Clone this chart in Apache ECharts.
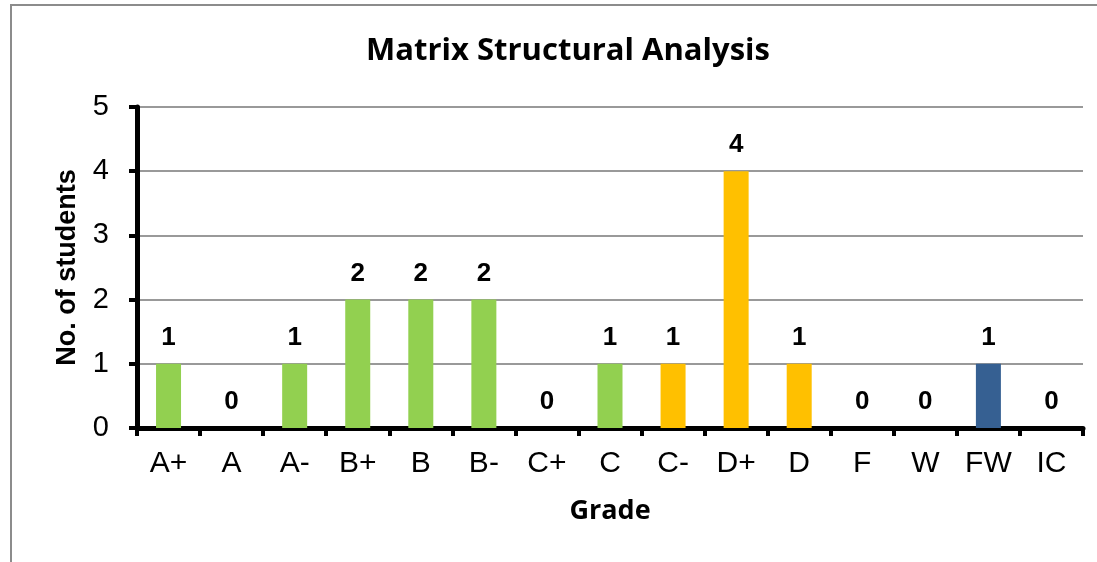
<!DOCTYPE html>
<html>
<head>
<meta charset="utf-8">
<script src="https://cdn.jsdelivr.net/npm/echarts@6/dist/echarts.min.js"></script>
<style>
  html, body { margin: 0; padding: 0; background: #fff; }
  #main { width: 1097px; height: 562px; }
</style>
</head>
<body>
<div id="main"></div>
<script>
// grades on the x axis
var grades = ['A+', 'A', 'A-', 'B+', 'B', 'B-', 'C+', 'C', 'C-', 'D+', 'D', 'F', 'W', 'FW', 'IC'];
// number of students per grade
var students = [1, 0, 1, 2, 2, 2, 0, 1, 1, 4, 1, 0, 0, 1, 0];
var yTicks = [0, 1, 2, 3, 4, 5];

// bar colour groups (green = pass, orange = low pass, blue = fail/withdraw)
var green = '#92D050', orange = '#FFC000', blue = '#366092';
var barColors = [green, green, green, green, green, green, green, green,
                 orange, orange, orange, orange, orange, blue, blue];

var chart = echarts.init(document.getElementById('main'));

var option = {
    backgroundColor: '#fff',
    animation: false,
    title: {
        text: 'Matrix Structural Analysis',
        left: 563,
        textAlign: 'center',
        top: 31,
        textStyle: { fontFamily: 'Open Sans', fontWeight: 'bold', fontSize: 31, color: '#000' }
    },
    graphic: [{
        type: 'rect',
        shape: { x: 11, y: 5, width: 1200, height: 700 },
        style: { fill: 'none', stroke: '#8c8c8c', lineWidth: 2 },
        silent: true
    }],
    grid: { left: 137, right: 14, top: 107, bottom: 134 },
    xAxis: {
        type: 'category',
        data: grades,
        name: 'Grade',
        nameLocation: 'middle',
        nameGap: 70,
        nameTextStyle: { fontFamily: 'Open Sans', fontWeight: 'bold', fontSize: 27, color: '#000' },
        axisLine: { lineStyle: { color: '#000', width: 5 } },
        axisTick: { show: true, length: 8, lineStyle: { color: '#000', width: 4 } },
        axisLabel: { fontFamily: 'Liberation Sans', fontSize: 30, color: '#000', margin: 21 }
    },
    yAxis: {
        type: 'value',
        min: yTicks[0],
        max: yTicks[yTicks.length - 1],
        interval: 1,
        name: 'No. of students',
        nameLocation: 'middle',
        nameGap: 56,
        nameTextStyle: { fontFamily: 'Liberation Sans', fontWeight: 'bold', fontSize: 27, color: '#000' },
        axisLine: { show: true, lineStyle: { color: '#000', width: 5 } },
        axisTick: { show: true, length: 8, lineStyle: { color: '#000', width: 4 } },
        axisLabel: { fontFamily: 'Liberation Sans', fontSize: 29, color: '#000', margin: 28 },
        splitLine: { lineStyle: { color: '#999', width: 2 } }
    },
    series: [{
        type: 'bar',
        barWidth: 25,
        data: students.map(function (v, i) {
            return { value: v, itemStyle: { color: barColors[i] } };
        }),
        label: {
            show: true,
            position: 'top',
            distance: 13,
            fontFamily: 'Liberation Sans',
            fontWeight: 'bold',
            fontSize: 26,
            color: '#000'
        }
    }]
};

chart.setOption(option);
</script>
</body>
</html>
